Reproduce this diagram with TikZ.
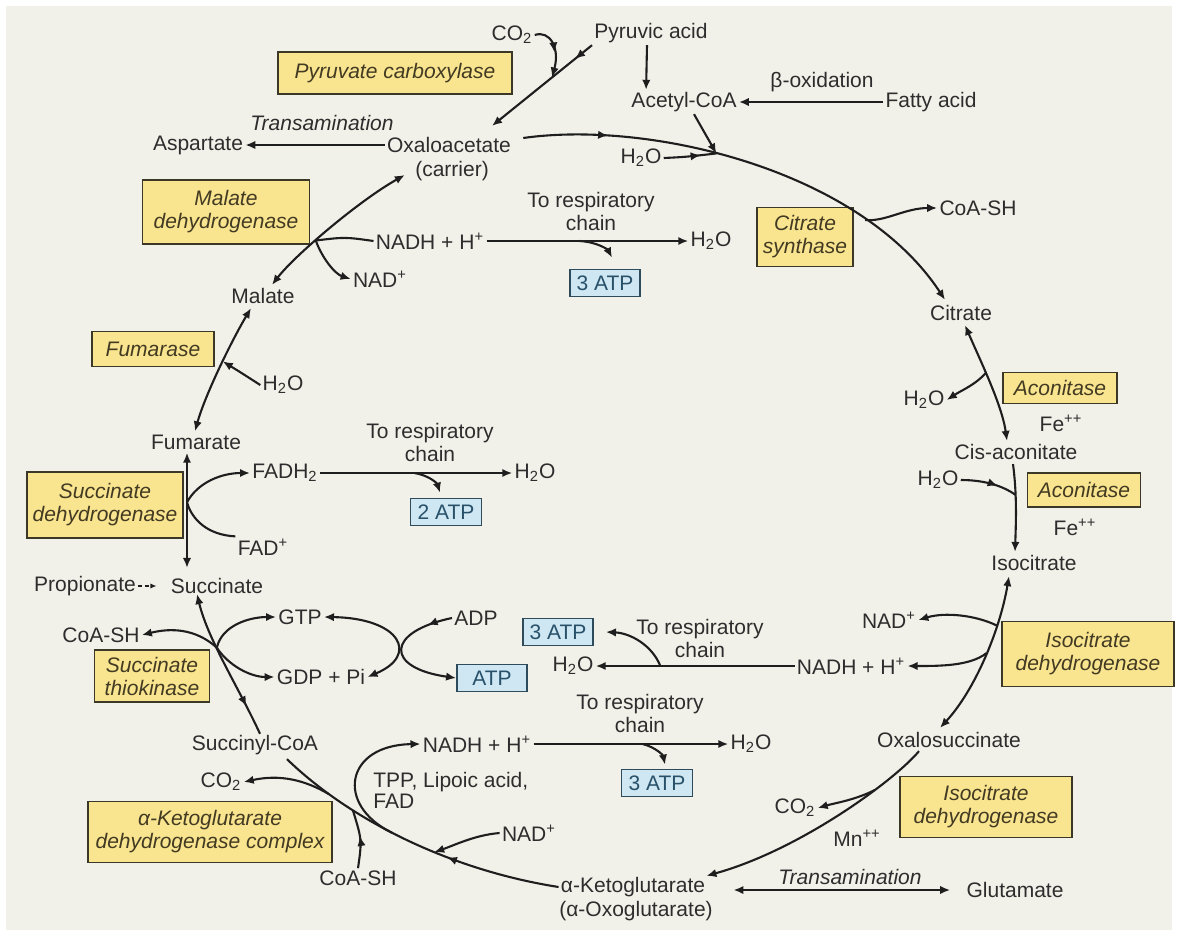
\documentclass[tikz,border=0pt]{standalone}
\usepackage{fontspec}
\setmainfont{Liberation Sans}
\usetikzlibrary{arrows.meta,calc,decorations.markings}

\definecolor{bgpanel}{RGB}{242,241,233}
\definecolor{enzfill}{RGB}{249,228,143}
\definecolor{enzdraw}{RGB}{60,56,40}
\definecolor{enztext}{RGB}{66,58,34}
\definecolor{atpfill}{RGB}{206,231,242}
\definecolor{atpdraw}{RGB}{45,75,90}
\definecolor{atptext}{RGB}{40,80,105}
\definecolor{ink}{RGB}{45,45,45}
\definecolor{wire}{RGB}{30,30,30}

\begin{document}
\begin{tikzpicture}[
    x=0.5pt, y=-0.5pt,
    font=\fontsize{10.5}{11.5}\selectfont,
    >={Latex[length=5pt,width=4.2pt]},
    met/.style={
        text=ink,
        inner sep=1pt,
        align=center
    },
    enzyme/.style={
        draw=enzdraw,
        fill=enzfill,
        line width=0.9pt,
        text=enztext,
        font=\fontsize{10.5}{11.5}\selectfont\itshape,
        align=center,
        inner sep=1pt
    },
    atpbox/.style={
        draw=atpdraw,
        fill=atpfill,
        line width=0.9pt,
        text=atptext,
        inner sep=1pt,
        minimum width=35pt,
        minimum height=13.5pt
    },
    flow/.style={
        draw=wire,
        line width=1.05pt
    },
    arr/.style={flow, ->},
    arr2/.style={flow, <->},
    midarr/.style={
        postaction={decorate},
        decoration={markings,
            mark=at position #1 with {\arrow{Latex[length=5pt,width=4.2pt]}}}
    },
    midrev/.style={
        postaction={decorate},
        decoration={markings,
            mark=at position #1 with {\arrowreversed{Latex[length=5pt,width=4.2pt]}}}
    },
    note/.style={
        met,
        font=\fontsize{10.5}{11.5}\selectfont\itshape
    }
]

% ---------------------------------------------------------
% Canvas
% ---------------------------------------------------------
\useasboundingbox (0,0) rectangle (1181,936);
\fill[white] (0,0) rectangle (1181,936);
\fill[bgpanel] (6,6) rectangle (1172,930);

% ---------------------------------------------------------
% Top: pyruvate, acetyl-CoA, oxaloacetate
% ---------------------------------------------------------
\node[met] (co2a) at (512,35) {CO\textsubscript{2}};
\node[met] (pyr) at (651,33) {Pyruvic acid};
\node[enzyme, minimum width=117pt, minimum height=21pt]
    (pc) at (395,73) {Pyruvate carboxylase};
\node[met] (acoa) at (684,102) {Acetyl-CoA};
\node[met] (boxid) at (822,82) {β-oxidation};
\node[met] (fatty) at (931,102) {Fatty acid};
\node[note] (trans1) at (322,123) {Transamination};
\node[met] (asp) at (198,145) {Aspartate};
\node[met] (oaa) at (449,145) {Oxaloacetate};
\node[met] (carrier) at (452,171) {(carrier)};
\node[met] (h2oa) at (641,158) {H\textsubscript{2}O};

% ---------------------------------------------------------
% Malate dehydrogenase / citrate synthase
% ---------------------------------------------------------
\node[enzyme, minimum width=83.5pt, minimum height=32pt]
    (mdh) at (226,212) {Malate\\dehydrogenase};
\node[met] (resp1) at (591,211) {To respiratory\\chain};
\node[met] (nadh1) at (430,241) {NADH + H\textsuperscript{+}};
\node[met] (h2ob) at (711,241) {H\textsubscript{2}O};
\node[atpbox] (atp1) at (605,283) {3 ATP};
\node[met] (nad1) at (380,279) {NAD\textsuperscript{+}};
\node[enzyme, minimum width=48pt, minimum height=29.5pt]
    (cs) at (805,237) {Citrate\\synthase};
\node[met] (coash1) at (978,208) {CoA-SH};
\node[met] (malate) at (263,296) {Malate};
\node[met] (citrate) at (961,313) {Citrate};

% ---------------------------------------------------------
% Middle band
% ---------------------------------------------------------
\node[enzyme, minimum width=61pt, minimum height=17.5pt]
    (fum) at (153,349) {Fumarase};
\node[met] (h2oc) at (283,385) {H\textsubscript{2}O};
\node[enzyme, minimum width=57pt, minimum height=15.5pt]
    (acon1) at (1060,388) {Aconitase};
\node[met] (h2od) at (924,400) {H\textsubscript{2}O};
\node[met] (fe1) at (1061,423) {Fe\textsuperscript{++}};
\node[met] (fumarate) at (196,442) {Fumarate};
\node[met] (cisacon) at (1016,452) {Cis-aconitate};
\node[met] (resp2) at (430,442) {To respiratory\\chain};
\node[met] (fadh) at (285,473) {FADH\textsubscript{2}};
\node[met] (h2of) at (535,473) {H\textsubscript{2}O};
\node[met] (h2oe) at (938,480) {H\textsubscript{2}O};
\node[enzyme, minimum width=56.5pt, minimum height=17pt]
    (acon2) at (1084,490) {Aconitase};
\node[enzyme, minimum width=78pt, minimum height=33pt]
    (sdh) at (105,505) {Succinate\\dehydrogenase};
\node[atpbox, minimum width=35.5pt] (atp2) at (446,512) {2 ATP};
\node[met] (fe2) at (1075,527) {Fe\textsuperscript{++}};
\node[met] (fad) at (263,547) {FAD\textsuperscript{+}};
\node[met] (isocit) at (1034,563) {Isocitrate};
\node[met] (propion) at (85,586) {Propionate};
\node[met] (succinate) at (217,586) {Succinate};

% ---------------------------------------------------------
% Lower band
% ---------------------------------------------------------
\node[met] (gtp) at (300,617) {GTP};
\node[met] (adp) at (476,618) {ADP};
\node[met] (nad2) at (889,620) {NAD\textsuperscript{+}};
\node[atpbox] (atp4) at (558,632) {3 ATP};
\node[met] (resp3) at (700,638) {To respiratory\\chain};
\node[met] (coash2) at (101,635) {CoA-SH};
\node[enzyme, minimum width=57.5pt, minimum height=26pt]
    (stk) at (152,676) {Succinate\\thiokinase};
\node[enzyme, minimum width=86pt, minimum height=32.5pt]
    (icdh1) at (1088,654) {Isocitrate\\dehydrogenase};
\node[met] (h2og) at (573,666) {H\textsubscript{2}O};
\node[met] (nadh2) at (851,666) {NADH + H\textsuperscript{+}};
\node[met] (gdp) at (321,677) {GDP + Pi};
\node[atpbox] (atp3) at (492,678) {ATP};
\node[met] (resp4) at (640,713) {To respiratory\\chain};
\node[met] (oxsuc) at (949,740) {Oxalosuccinate};
\node[met] (nadh3) at (477,744) {NADH + H\textsuperscript{+}};
\node[met] (h2oh) at (751,744) {H\textsubscript{2}O};
\node[met] (succoa) at (255,745) {Succinyl-CoA};
\node[met, anchor=west, align=left, font=\fontsize{10.5}{10.5}\selectfont]
    (cofac) at (371,790) {TPP, Lipoic acid,\\FAD};
\node[met] (co2b) at (221,782) {CO\textsubscript{2}};
\node[atpbox, minimum width=35.5pt] (atp5) at (657,783) {3 ATP};
\node[enzyme, minimum width=86pt, minimum height=30.5pt]
    (icdh2) at (986,807) {Isocitrate\\dehydrogenase};
\node[met] (co2c) at (795,808) {CO\textsubscript{2}};
\node[enzyme, minimum width=122pt, minimum height=30.5pt]
    (akgdh) at (210,832) {α-Ketoglutarate\\dehydrogenase complex};
\node[met] (nad3) at (529,833) {NAD\textsuperscript{+}};
\node[met] (mn) at (857,838) {Mn\textsuperscript{++}};
\node[note] (trans2) at (850,877) {Transamination};
\node[met] (coash3) at (358,878) {CoA-SH};
\node[met] (akg) at (633,887) {α-Ketoglutarate};
\node[met] (akgalt) at (636,911) {(α-Oxoglutarate)};
\node[met] (glu) at (1015,890) {Glutamate};

% ---------------------------------------------------------
% Main cycle
% ---------------------------------------------------------
\draw[arr, midarr=0.18] ($(oaa.east)+(10,-7)$)
    .. controls (650,120) and (860,170) ..
    coordinate[pos=0.43] (jac) coordinate[pos=0.76] (jcs)
    ($(citrate.north)+(-16,-3)$);
\draw[arr2] ($(citrate.south)+(4,2)$)
    .. controls (980,360) and (1002,405) ..
    coordinate[pos=0.42] (jcit) ($(cisacon.north)+(-9,-1)$);
\draw[arr] ($(cisacon.south)+(-3,2)$)
    .. controls (1017,495) and (1016,520) ..
    coordinate[pos=0.35] (jcis) ($(isocit.north)+(-19,-1)$);
\draw[arr2] ($(isocit.south)+(-25,3)$)
    .. controls (1000,630) and (975,690) ..
    coordinate[pos=0.3] (jicd1) coordinate[pos=0.47] (jicd2)
    ($(oxsuc.north)+(-9,-2)$);
\draw[arr] ($(oxsuc.south)+(-30,1)$)
    .. controls (895,780) and (800,850) ..
    coordinate[pos=0.33] (jox) ($(akg.north east)+(-1,1)$);
\draw[flow, midarr=0.38] (akg.west)
    .. controls (450,870) and (350,820) ..
    coordinate[pos=0.4] (jkg1) coordinate[pos=0.55] (jkg2)
    coordinate[pos=0.7] (jkg3) coordinate[pos=0.8] (jkg4)
    ($(succoa.south)+(32,2)$);
\draw[arr, midrev=0.2] ($(succoa.north)+(5,1)$)
    .. controls (240,690) and (208,640) ..
    coordinate[pos=0.62] (jstk) ($(succinate.south)+(-20,-2)$);
\draw[arr2] ($(fumarate.south)+(-9,1)$) --
    coordinate[pos=0.43] (jsdh) ($(succinate.north)+(-30,-8)$);
\draw[arr2] ($(fumarate.north)+(-1,-1)$)
    .. controls (205,395) and (232,340) ..
    coordinate[pos=0.55] (jfum) ($(malate.south)+(-12,2)$);
\draw[arr2] ($(malate.north)+(9,-1)$)
    .. controls (295,255) and (360,200) ..
    coordinate[pos=0.4] (jmdh) ($(carrier.west)+(-8,4)$);

% ---------------------------------------------------------
% Feeders at the top
% ---------------------------------------------------------
\draw[arr, midarr=0.17] (pyr.south west) --
    coordinate[pos=0.4] (jpc) ($(oaa.north)+(43,-9)$);
\draw[arr, midarr=0.55] (co2a.east) .. controls (550,30) and (560,48) .. (jpc);
\draw[arr] ($(pyr.south)+(-4,0)$) -- ($(acoa.north west)+(17,0)$);
\draw[arr] (fatty.west) -- (acoa.east);
\draw[arr] ($(acoa.south)+(10,0)$) -- (jac);
\draw[flow, midarr=0.7] (h2oa.east) .. controls (685,157) .. (jac);
\draw[arr] (oaa.west) -- (asp.east);
\draw[arr] (jcs) .. controls (885,222) and (905,208) .. (coash1.west);

% malate dehydrogenase side reactions
\draw[flow] (nadh1.west) .. controls (345,237) .. (jmdh);
\draw[arr] (jmdh) .. controls (322,258) and (335,274) .. (nad1.west);
\draw[arr] (nadh1.east) -- coordinate[pos=0.46] (jr1) (h2ob.west);
\draw[arr] (jr1) .. controls (598,242) and (608,250) .. ($(atp1.north)+(7,-11)$);

% ---------------------------------------------------------
% Right side: aconitase, isocitrate dehydrogenase
% ---------------------------------------------------------
\draw[arr] (jcit) .. controls (975,385) and (962,390) .. (h2od.east);
\draw[flow, midarr=0.65] (h2oe.east) .. controls (985,480) and (1003,486) .. (jcis);
\draw[arr] (jicd1) .. controls (975,615) and (945,612) .. (nad2.east);
\draw[arr] (jicd2) .. controls (970,666) and (940,666) .. (nadh2.east);
\draw[arr] (nadh2.west) -- coordinate[pos=0.675] (jr3) (h2og.east);
\draw[arr] (jr3) .. controls (652,645) and (630,633) .. ($(atp4.east)+(12,0)$);
\draw[arr] (jox) .. controls (855,800) and (835,803) .. (co2c.east);
\draw[arr2] ($(akg.east)+(26,3)$) -- ($(glu.west)+(-14,0)$);

% ---------------------------------------------------------
% Bottom left: alpha-ketoglutarate dehydrogenase complex
% ---------------------------------------------------------
\draw[arr] (nad3.west) .. controls (475,835) and (455,845) .. (jkg1);
\draw[arr] (jkg2) .. controls (335,805) and (345,745) .. (nadh3.west);
\draw[arr] (jkg4) .. controls (305,780) and (280,774) .. (co2b.east);
\draw[flow, midarr=0.55] (coash3.north) .. controls (362,840) .. (jkg3);
\draw[arr] (nadh3.east) -- coordinate[pos=0.56] (jr4) (h2oh.west);
\draw[arr] (jr4) .. controls (655,747) and (663,755) .. ($(atp5.north)+(8,-4)$);

% succinate thiokinase
\draw[arr] (jstk) .. controls (195,628) and (170,628) .. (coash2.east);
\draw[arr] (jstk) .. controls (222,625) and (250,617) .. (gtp.west);
\draw[arr] (jstk) .. controls (228,665) and (250,677) .. (gdp.west);
\draw[arr2] (gtp.east) .. controls (400,618) and (420,655) .. (gdp.east);
\draw[arr, midarr=0.2] (adp.west) .. controls (385,632) and (385,668) .. (atp3.west);

% ---------------------------------------------------------
% Left side: succinate dehydrogenase, fumarase
% ---------------------------------------------------------
\draw[arr] (jsdh) .. controls (198,482) and (222,473) .. (fadh.west);
\draw[flow] (fad.north west) .. controls (208,535) and (192,520) .. (jsdh);
\draw[arr] (fadh.east) -- coordinate[pos=0.49] (jr2) (h2of.west);
\draw[arr] (jr2) .. controls (428,475) and (437,483) .. ($(atp2.north)+(-6,-5)$);
\draw[arr] (h2oc.west) .. controls (240,372) .. (jfum);
\draw[flow, line width=0.6pt, dash pattern=on 2pt off 1.5pt,
    -{Latex[length=3pt,width=2.6pt]}]
    (propion.east) -- ($(succinate.west)+(-12,0)$);

\end{tikzpicture}
\end{document}
